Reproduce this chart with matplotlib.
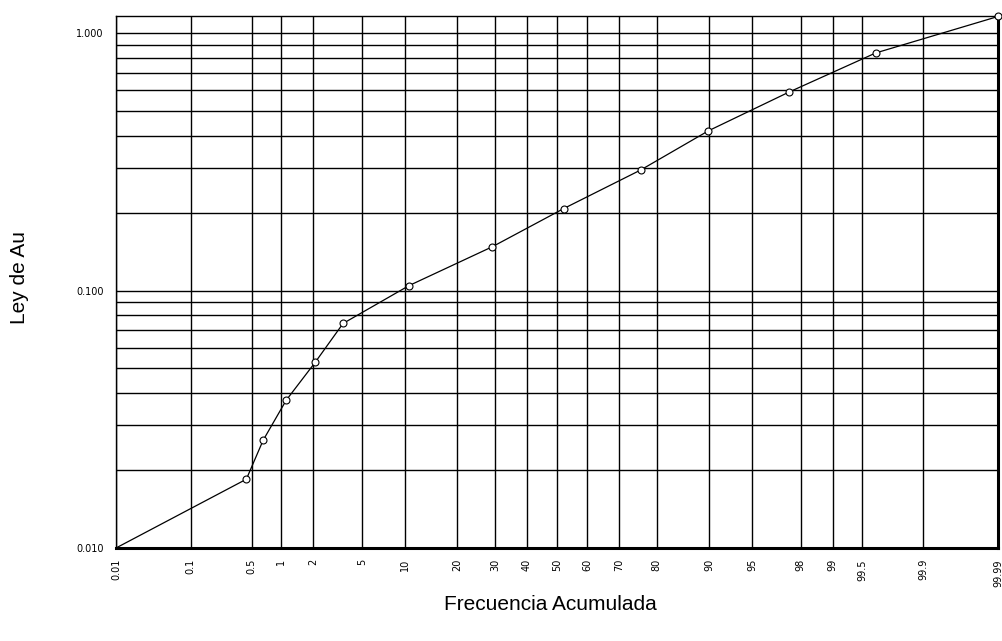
import numpy as np
import matplotlib
matplotlib.use("Agg")
import matplotlib.pyplot as plt
from statistics import NormalDist

# datos (frecuencia acumulada %, ley de Au)
frecuencia = [0.01, 0.44, 0.66, 1.12, 2.07, 3.56, 10.6, 29.3, 52.2, 76.0, 89.9, 97.5, 99.64, 99.99]
ley_au = [0.010, 0.0185, 0.0262, 0.0375, 0.0526, 0.0745, 0.1045, 0.148, 0.208, 0.294, 0.417, 0.591, 0.837, 1.16]

x_ticks = [0.01, 0.1, 0.5, 1, 2, 5, 10, 20, 30, 40, 50, 60, 70, 80, 90, 95, 98, 99, 99.5, 99.9, 99.99]
x_labels = ["0.01", "0.1", "0.5", "1", "2", "5", "10", "20", "30", "40", "50", "60", "70", "80",
            "90", "95", "98", "99", "99.5", "99.9", "99.99"]
y_ticks = [0.01, 0.1, 1.0]
y_labels = ["0.010", "0.100", "1.000"]

nd = NormalDist()
_ppf = np.vectorize(lambda p: nd.inv_cdf(min(max(p, 1e-9), 1 - 1e-9)), otypes=[float])
_cdf = np.vectorize(nd.cdf, otypes=[float])


def forward(p):
    return _ppf(np.asarray(p, dtype=float) / 100.0)


def inverse(z):
    return 100.0 * _cdf(np.asarray(z, dtype=float))


plt.rcParams['font.family'] = ['Liberation Sans', 'DejaVu Sans']

fig = plt.figure(figsize=(10.03, 6.41), dpi=100)
ax = fig.add_axes([116 / 1003, 93 / 641, 882 / 1003, 532 / 641])

ax.set_xscale('function', functions=(forward, inverse))
ax.set_yscale('log')
ax.set_xlim(0.01, 99.99)
ax.set_ylim(0.01, 1.165)

# rejilla
for xv in x_ticks:
    ax.axvline(xv, color='black', lw=1.0, zorder=1)
for dec in [0.01, 0.1, 1.0]:
    for m in range(1, 10):
        yv = dec * m
        if yv <= 1.0:
            ax.axhline(yv, color='black', lw=1.0, zorder=1)

ax.plot(frecuencia, ley_au, color='black', lw=0.9, zorder=3, clip_on=False)
ax.plot(frecuencia[1:], ley_au[1:], linestyle='none', marker='o', markersize=5,
        markerfacecolor='white', markeredgecolor='black', markeredgewidth=0.8,
        zorder=4, clip_on=False)

ax.set_xticks(x_ticks)
ax.set_xticklabels(x_labels, rotation=90, fontsize=7, family=['DejaVu Sans'])
ax.set_yticks(y_ticks)
ax.set_yticklabels(y_labels, fontsize=7, family=['DejaVu Sans'])
ax.set_xticks([], minor=True)
ax.set_yticks([], minor=True)
ax.tick_params(axis='x', length=0, pad=8)
ax.tick_params(axis='y', length=0, pad=9)

for s in ['top', 'left']:
    ax.spines[s].set_linewidth(1.0)
for s in ['bottom', 'right']:
    ax.spines[s].set_linewidth(2.2)

fig.text(550 / 1003, 1 - 605 / 641, "Frecuencia Acumulada", ha='center', va='center', fontsize=15)
fig.text(20 / 1003, 1 - 278 / 641, "Ley de Au", ha='center', va='center', rotation=90, fontsize=15)

fig.savefig("out.png", dpi=100)
